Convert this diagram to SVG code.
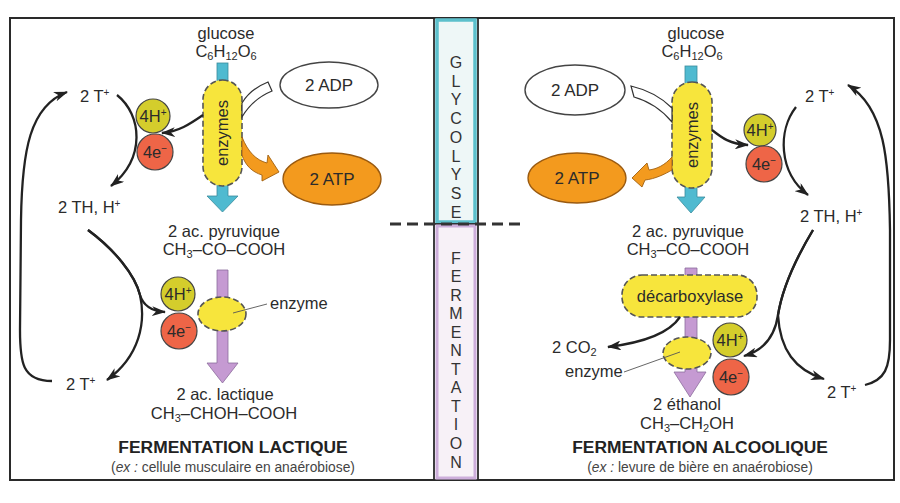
<svg xmlns="http://www.w3.org/2000/svg" width="900" height="503" viewBox="0 0 900 503">
<defs>
<style>
text{font-family:"Liberation Sans",Arial,sans-serif;fill:#2b2b2b;font-size:16.5px}
.mid{text-anchor:middle}
.title{font-weight:bold;font-size:17.4px;fill:#222}
.sub{font-size:13.8px;fill:#444}
.col{font-size:16px;text-anchor:middle;fill:#333}
.ss{font-size:11px}
.sup{font-size:10px}
.conn{fill:none;stroke:#222;stroke-width:2.3;marker-end:url(#ah)}
.enz{fill:#f7e53c;stroke:#555;stroke-width:1.6;stroke-dasharray:6 3}
.h{fill:#d4cd2c;stroke:#444;stroke-width:1.2}
.e{fill:#ee6547;stroke:#444;stroke-width:1.2}
.cyan{fill:#4fbad0;stroke:#3a8c9c;stroke-width:0.8}
.purp{fill:#c59ad2;stroke:#8c6c9c;stroke-width:0.8}
.atp{fill:#f39a1e;stroke:#9a5a10;stroke-width:1.3}
.adp{fill:#fff;stroke:#444;stroke-width:1.4}
.orarr{fill:#f39a1e;stroke:#a06010;stroke-width:0.9}
.wharr{fill:#fff;stroke:#333;stroke-width:1.2}
.lead{stroke:#555;stroke-width:0.9;fill:none}
</style>
<marker id="ah" viewBox="0 0 14 10" refX="13" refY="5" markerWidth="14" markerHeight="10" markerUnits="userSpaceOnUse" orient="auto">
<path d="M0,0 L14,5 L0,10 L4,5 Z" fill="#222"/>
</marker>
</defs>
<rect x="0" y="0" width="900" height="503" fill="#fff"/>
<rect id="frame" x="10" y="18" width="884" height="462" fill="#fff" stroke="#2a2a2a" stroke-width="2"/>

<g id="column">
<rect x="434" y="18" width="44" height="206" fill="#fff" stroke="#2a2a2a" stroke-width="1.8"/>
<rect x="437" y="20" width="38" height="202" fill="#eef7f7" stroke="#5cc0cc" stroke-width="3.5"/>
<rect x="434" y="224" width="44" height="256" fill="#fff" stroke="#2a2a2a" stroke-width="1.8"/>
<rect x="437" y="226" width="38" height="252" fill="#f7f1f7" stroke="#cdaedb" stroke-width="3"/>
<text class="col" x="456" y="68">G</text>
<text class="col" x="456" y="87">L</text>
<text class="col" x="456" y="105">Y</text>
<text class="col" x="456" y="124">C</text>
<text class="col" x="456" y="143">O</text>
<text class="col" x="456" y="162">L</text>
<text class="col" x="456" y="180">Y</text>
<text class="col" x="456" y="199">S</text>
<text class="col" x="456" y="218">E</text>
<text class="col" x="456" y="264">F</text>
<text class="col" x="456" y="282">E</text>
<text class="col" x="456" y="301">R</text>
<text class="col" x="456" y="319">M</text>
<text class="col" x="456" y="338">E</text>
<text class="col" x="456" y="356">N</text>
<text class="col" x="456" y="375">T</text>
<text class="col" x="456" y="393">A</text>
<text class="col" x="456" y="412">T</text>
<text class="col" x="456" y="430">I</text>
<text class="col" x="456" y="449">O</text>
<text class="col" x="456" y="468">N</text>
</g>
<line id="divider" x1="390" y1="224" x2="526" y2="224" stroke="#333" stroke-width="3" stroke-dasharray="11 6"/>

<!-- LEFT PANEL -->
<g id="L-glucose">
<text class="mid" x="226" y="39">glucose</text>
<text class="mid" x="226" y="57">C<tspan class="ss" dy="3">6</tspan><tspan dy="-3">H</tspan><tspan class="ss" dy="3">12</tspan><tspan dy="-3">O</tspan><tspan class="ss" dy="3">6</tspan></text>
</g>
<g id="L-glyco-arrow">
<rect class="cyan" x="217" y="63" width="11" height="20"/>
<path class="cyan" d="M217,184 L228,184 L228,196 L238,196 L222.5,212 L207,196 L217,196 Z"/>
</g>
<g id="L-enzymes">
<rect class="enz" x="203" y="80" width="39" height="106" rx="19.5"/>
<text class="mid" transform="translate(228,133) rotate(-90)">enzymes</text>
</g>
<g id="L-adp">
<ellipse class="adp" cx="329" cy="85" rx="49" ry="23"/>
<text class="mid" x="329" y="91" style="font-size:17px">2 ADP</text>
</g>
<g id="L-atp">
<ellipse class="atp" cx="332" cy="179" rx="49" ry="26"/>
<text class="mid" x="332" y="185" style="font-size:17px">2 ATP</text>
</g>
<g id="L-4H">
<circle class="h" cx="153" cy="116" r="17"/>
<text class="mid" x="153" y="122">4H<tspan class="sup" dy="-6">+</tspan></text>
</g>
<g id="L-4e">
<circle class="e" cx="155" cy="152" r="18"/>
<text class="mid" x="155" y="158">4e<tspan class="sup" dy="-6">−</tspan></text>
</g>
<g id="L-2T-top"><text x="80" y="102">2 T<tspan class="sup" dy="-6">+</tspan></text></g>
<g id="L-2TH"><text x="58" y="213">2 TH, H<tspan class="sup" dy="-6">+</tspan></text></g>
<g id="L-pyruvique">
<text class="mid" x="224" y="237">2 ac. pyruvique</text>
<text class="mid" x="224" y="255">CH<tspan class="ss" dy="3">3</tspan><tspan dy="-3">–CO–COOH</tspan></text>
</g>
<g id="L-ferm-arrow">
<path class="purp" d="M217,270 L228,270 L228,363 L238,363 L222.5,383 L207,363 L217,363 Z"/>
</g>
<g id="L-enzyme">
<ellipse class="enz" cx="222" cy="314" rx="24" ry="17"/>
<line class="lead" x1="233" y1="313" x2="267" y2="304"/>
<text x="270" y="309">enzyme</text>
</g>
<g id="L-4H-b">
<circle class="h" cx="178" cy="294" r="17"/>
<text class="mid" x="178" y="300">4H<tspan class="sup" dy="-6">+</tspan></text>
</g>
<g id="L-4e-b">
<circle class="e" cx="179" cy="331" r="18"/>
<text class="mid" x="179" y="337">4e<tspan class="sup" dy="-6">−</tspan></text>
</g>
<g id="L-2T-bot"><text x="66" y="390">2 T<tspan class="sup" dy="-6">+</tspan></text></g>
<g id="L-lactique">
<text class="mid" x="225" y="400">2 ac. lactique</text>
<text class="mid" x="224" y="419">CH<tspan class="ss" dy="3">3</tspan><tspan dy="-3">–CHOH–COOH</tspan></text>
</g>
<g id="L-title">
<text class="mid title" x="233" y="453">FERMENTATION LACTIQUE</text>
<text class="mid sub" x="233" y="472">(<tspan font-style="italic">ex :</tspan> cellule musculaire en anaérobiose)</text>
</g>

<!-- RIGHT PANEL -->
<g id="R-glucose">
<text class="mid" x="696" y="39">glucose</text>
<text class="mid" x="692" y="57">C<tspan class="ss" dy="3">6</tspan><tspan dy="-3">H</tspan><tspan class="ss" dy="3">12</tspan><tspan dy="-3">O</tspan><tspan class="ss" dy="3">6</tspan></text>
</g>
<g id="R-glyco-arrow">
<rect class="cyan" x="685" y="66" width="12" height="18"/>
<path class="cyan" d="M685,185 L697,185 L697,197 L705,197 L691,213 L677,197 L685,197 Z"/>
</g>
<g id="R-enzymes">
<rect class="enz" x="672" y="82" width="40" height="106" rx="20"/>
<text class="mid" transform="translate(698,135) rotate(-90)">enzymes</text>
</g>
<g id="R-adp">
<ellipse class="adp" cx="575" cy="90" rx="50" ry="25"/>
<text class="mid" x="575" y="96" style="font-size:17px">2 ADP</text>
</g>
<g id="R-atp">
<ellipse class="atp" cx="577" cy="178" rx="49" ry="25"/>
<text class="mid" x="577" y="184" style="font-size:17px">2 ATP</text>
</g>
<g id="R-4H">
<circle class="h" cx="760" cy="130" r="16"/>
<text class="mid" x="760" y="136">4H<tspan class="sup" dy="-6">+</tspan></text>
</g>
<g id="R-4e">
<circle class="e" cx="764" cy="164" r="18"/>
<text class="mid" x="764" y="170">4e<tspan class="sup" dy="-6">−</tspan></text>
</g>
<g id="R-2T-top"><text x="805" y="102">2 T<tspan class="sup" dy="-6">+</tspan></text></g>
<g id="R-2TH"><text x="800" y="222">2 TH, H<tspan class="sup" dy="-6">+</tspan></text></g>
<g id="R-pyruvique">
<text class="mid" x="688" y="237">2 ac. pyruvique</text>
<text class="mid" x="688" y="255">CH<tspan class="ss" dy="3">3</tspan><tspan dy="-3">–CO–COOH</tspan></text>
</g>
<g id="R-ferm-arrow">
<path class="purp" d="M685,268 L697,268 L697,372 L706,372 L690,397 L674,372 L685,372 Z"/>
</g>
<g id="R-decarboxylase">
<rect class="enz" x="622" y="275" width="135" height="42" rx="20"/>
<text class="mid" x="690" y="302">décarboxylase</text>
</g>
<g id="R-enzyme">
<ellipse class="enz" cx="687" cy="353" rx="24" ry="16"/>
<line class="lead" x1="680" y1="352" x2="624" y2="372"/>
<text x="565" y="377">enzyme</text>
</g>
<g id="R-4H-b">
<circle class="h" cx="730" cy="340" r="17"/>
<text class="mid" x="730" y="346">4H<tspan class="sup" dy="-6">+</tspan></text>
</g>
<g id="R-4e-b">
<circle class="e" cx="731" cy="377" r="18"/>
<text class="mid" x="731" y="383">4e<tspan class="sup" dy="-6">−</tspan></text>
</g>
<g id="R-co2"><text x="552" y="353">2 CO<tspan class="ss" dy="3">2</tspan></text></g>
<g id="R-2T-bot"><text x="827" y="398">2 T<tspan class="sup" dy="-6">+</tspan></text></g>
<g id="R-ethanol">
<text class="mid" x="687" y="410">2 éthanol</text>
<text class="mid" x="687" y="429">CH<tspan class="ss" dy="3">3</tspan><tspan dy="-3">–CH</tspan><tspan class="ss" dy="3">2</tspan><tspan dy="-3">OH</tspan></text>
</g>
<g id="R-title">
<text class="mid title" x="700" y="453">FERMENTATION ALCOOLIQUE</text>
<text class="mid sub" x="700" y="472">(<tspan font-style="italic">ex :</tspan> levure de bière en anaérobiose)</text>
</g>

<g id="connectors">
<!-- left -->
<path class="wharr" d="M268,82 C258,86 248,93 242,103 L242,117 C249,105 260,96 272,91 Z"/>
<path class="orarr" d="M242,137 C248,152 256,160 267,163 L268,155 L279,172 L262,181 L262,175 C252,172 245,165 242,155 Z"/>
<path class="conn" d="M203,115 C190,124 178,132 162,133"/>
<path class="conn" d="M117,95 C142,115 146,158 111,186"/>
<path class="conn" d="M52,381 C22,381 20,362 20,330 L21,220 C22,150 30,106 67,92"/>
<path class="conn" d="M88,230 C115,250 135,275 140,295 C143,305 150,311 165,312"/>
<path class="conn" d="M88,230 C115,250 135,275 140,295 C146,322 140,356 107,380"/>
<!-- right -->
<path class="wharr" d="M631,86 C648,90 662,98 672,108 L672,122 C662,110 648,101 634,97 Z"/>
<path class="orarr" d="M672,157 C665,165 657,169 649,170 L647,163 L632,178 L642,187 L645,180 C655,179 665,174 672,170 Z"/>
<path class="conn" d="M712,130 C722,138 730,144 748,145"/>
<path class="conn" d="M796,107 C778,130 778,172 808,195"/>
<path class="conn" d="M865,385 C885,380 890,368 890,340 L890,230 C889,160 885,108 848,85"/>
<path class="conn" d="M680,317 C668,335 640,343 608,347"/>
<path class="conn" d="M813,230 C795,260 782,290 778,315 C775,335 765,350 744,356"/>
<path class="conn" d="M813,230 C795,260 782,290 778,315 C780,350 795,370 824,379"/>
</g>
</svg>
